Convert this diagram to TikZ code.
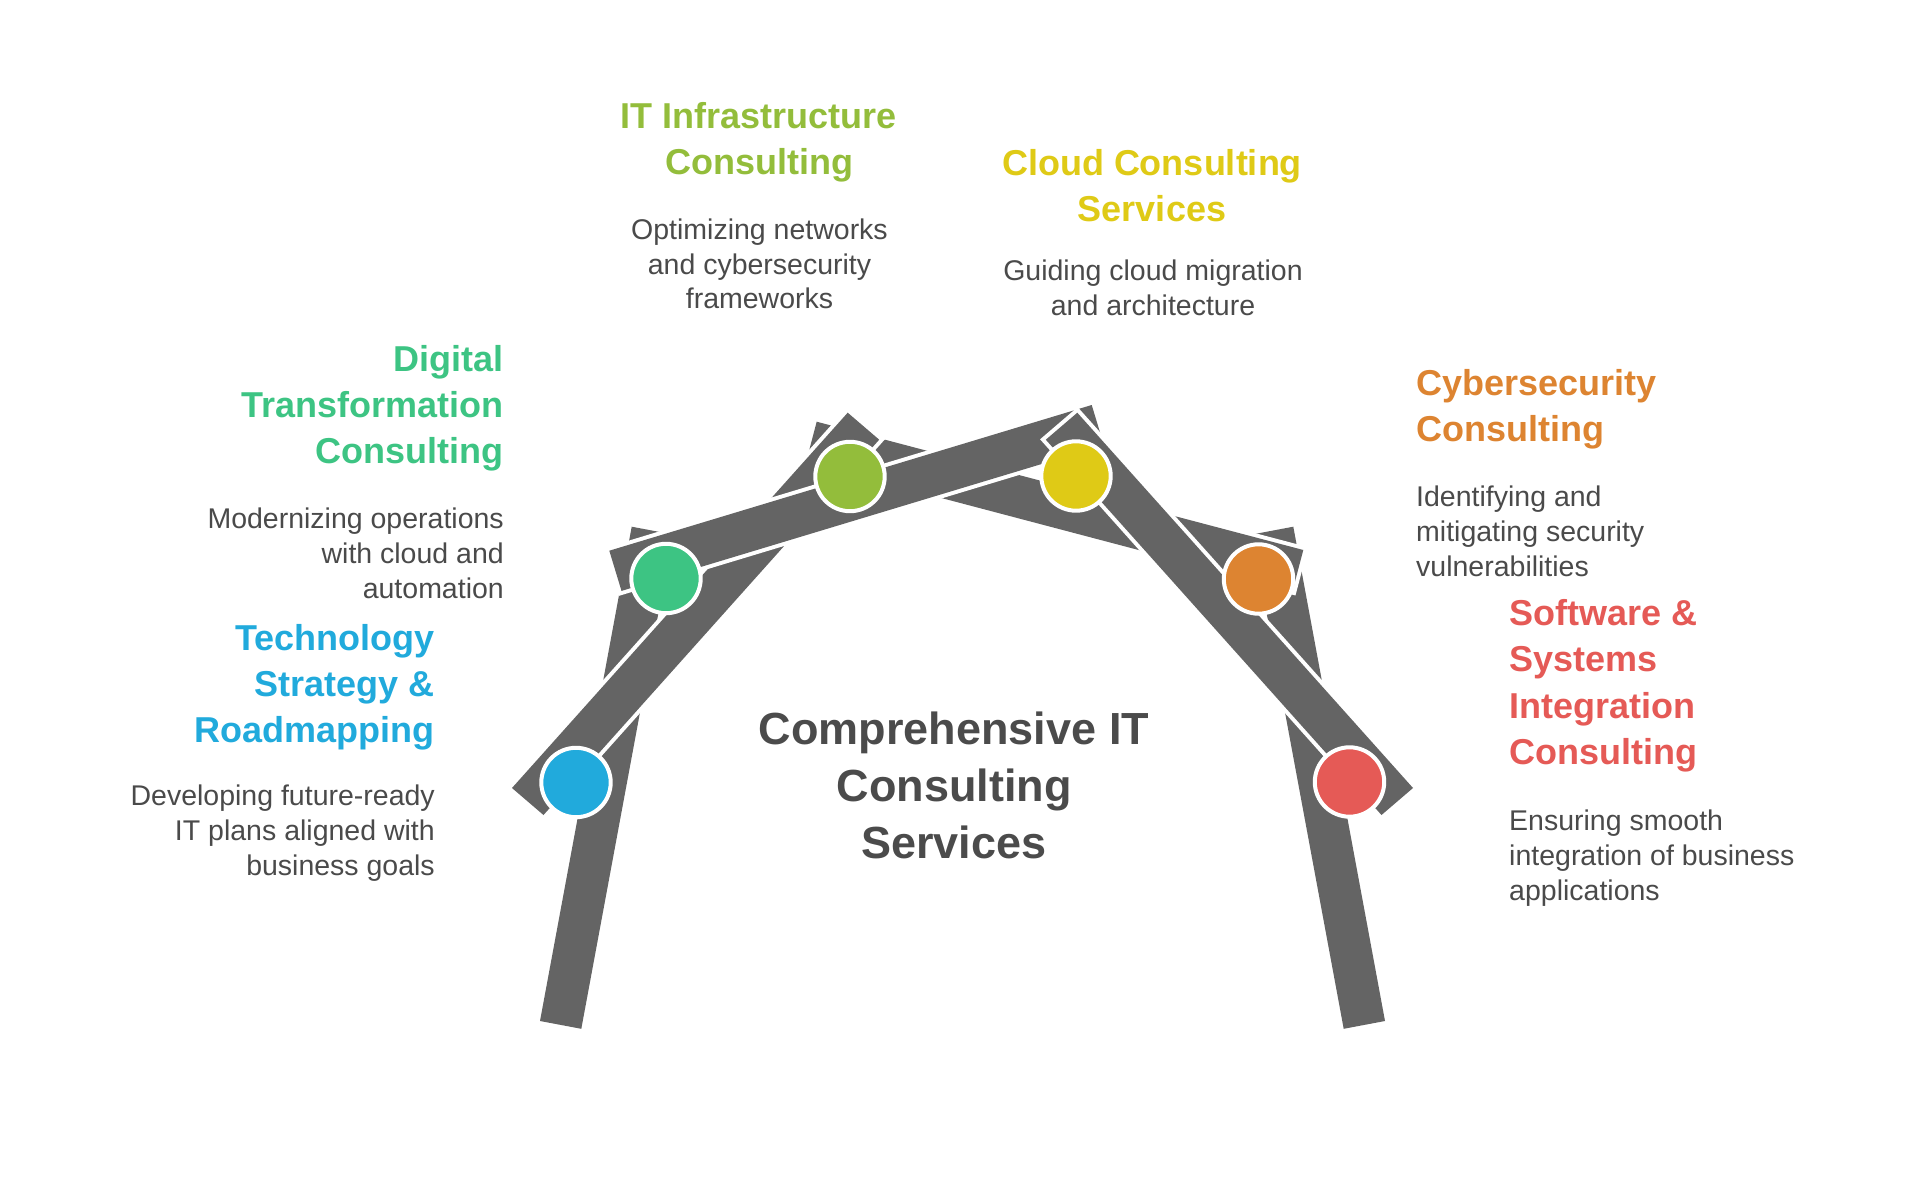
\documentclass[tikz,border=0pt]{standalone}
\usepackage{fontspec}
\setmainfont{Liberation Sans}
\definecolor{barc}{HTML}{646464}
\definecolor{tdark}{HTML}{4A4A4A}
\definecolor{tcenter}{HTML}{4B4B4B}
\definecolor{cblue}{HTML}{21AADC}
\definecolor{cgreen}{HTML}{3DC483}
\definecolor{clime}{HTML}{93BD3B}
\definecolor{cyellow}{HTML}{DFCA16}
\definecolor{corange}{HTML}{DD8431}
\definecolor{cred}{HTML}{E55A56}
\newcommand\txtblock[2]{\begin{tabular}[t]{@{}#1@{}}#2\end{tabular}}
\newcommand\drawbar[4]{%
  \path[draw=white,line width=8pt,line join=miter] #1--#2--#3--#4--cycle;
  \path[fill=barc] #1--#2--#3--#4--cycle;}
\begin{document}
\begin{tikzpicture}[x=1pt,y=-1pt,
  joint/.style={circle,draw=white,line width=4pt,minimum size=69.4pt,inner sep=0pt},
  ttl/.style={font=\bfseries\fontsize{36}{46.3}\selectfont,inner sep=0pt},
  dsc/.style={font=\fontsize{28.5}{35}\selectfont,text=tdark,inner sep=0pt}]
\useasboundingbox (0,0) rectangle (1920,1180);
% legs
\drawbar{(631.7,526.7)}{(673,534.5)}{(581.3,1028.8)}{(540,1021)}
\drawbar{(1293.3,526.7)}{(1252,534.5)}{(1343.7,1028.8)}{(1385,1021)}
% right crossing bar (under)
\drawbar{(816.7,421.7)}{(1303.3,550)}{(1292.6,590.6)}{(806,462.3)}
% left diagonal
\drawbar{(847.7,412.7)}{(879.2,439.7)}{(543.5,815)}{(512,788)}
% left crossing bar (over)
\drawbar{(609.3,550.7)}{(1091.7,405)}{(1103.9,445.2)}{(621.5,590.9)}
% right diagonal
\drawbar{(1077.3,412.7)}{(1045.8,439.7)}{(1381.5,815)}{(1413,788)}
% joints
\node[joint,fill=cblue]   (jblue)   at (576,782.5) {};
\node[joint,fill=cgreen]  (jgreen)  at (666,578.5) {};
\node[joint,fill=clime]   (jlime)   at (850,476.5) {};
\node[joint,fill=cyellow] (jyellow) at (1076,476) {};
\node[joint,fill=corange] (jorange) at (1258.5,579) {};
\node[joint,fill=cred]    (jred)    at (1349.5,782) {};
% center title
\node[font=\bfseries\fontsize{45}{57}\selectfont,text=tcenter,inner sep=0pt,anchor=base]
  (center) at (954,744) {\txtblock{c}{Comprehensive IT\\Consulting\\Services}};
% IT Infrastructure
\node[ttl,text=clime,anchor=base] (t1) at (759,128.6) {\txtblock{c}{IT Infrastructure\\Consulting}};
\node[dsc,anchor=base] (d1) at (759.5,239) {\txtblock{c}{Optimizing networks\\and cybersecurity\\frameworks}};
% Cloud
\node[ttl,text=cyellow,anchor=base] (t2) at (1152,175.5) {\txtblock{c}{Cloud Consulting\\Services}};
\node[dsc,anchor=base] (d2) at (1153,280.5) {\txtblock{c}{Guiding cloud migration\\and architecture}};
% Cybersecurity
\node[ttl,text=corange,anchor=base west] (t3) at (1416,395) {\txtblock{l}{Cybersecurity\\Consulting}};
\node[dsc,anchor=base west] (d3) at (1416,506) {\txtblock{l}{Identifying and\\mitigating security\\vulnerabilities}};
% Software
\node[ttl,text=cred,anchor=base west] (t4) at (1509,625.6) {\txtblock{l}{Software \&\\Systems\\Integration\\Consulting}};
\node[dsc,anchor=base west] (d4) at (1509,830.6) {\txtblock{l}{Ensuring smooth\\integration of business\\applications}};
% Digital
\node[ttl,text=cgreen,anchor=base east] (t5) at (504,371) {\txtblock{r}{Digital\\Transformation\\Consulting}};
\node[dsc,anchor=base east] (d5) at (504,528.6) {\txtblock{r}{Modernizing operations\\with cloud and\\automation}};
% Technology
\node[ttl,text=cblue,anchor=base east] (t6) at (435,650) {\txtblock{r}{Technology\\Strategy \&\\Roadmapping}};
\node[dsc,anchor=base east] (d6) at (435,805) {\txtblock{r}{Developing future-ready\\IT plans aligned with\\business goals}};
\end{tikzpicture}
\end{document}
